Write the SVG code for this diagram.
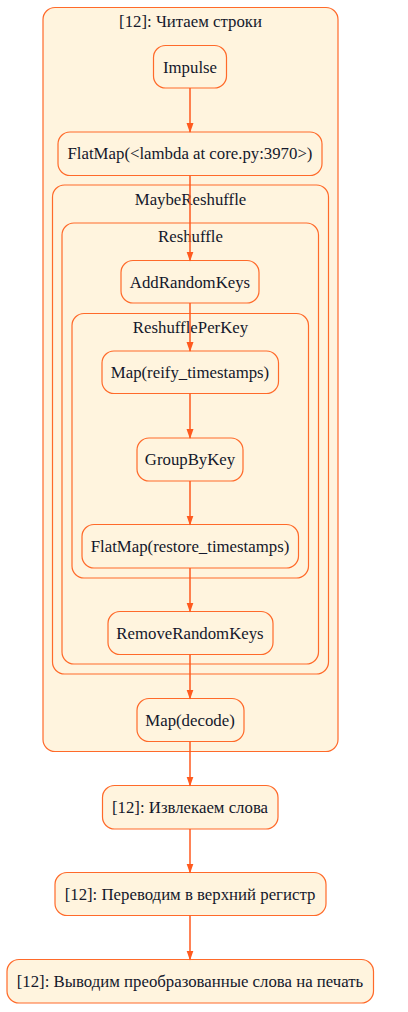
<svg xmlns="http://www.w3.org/2000/svg" width="408" height="1012" viewBox="0 0 408 1012">
<style>
.cl{fill:#fff4de;stroke:#ff6a2a;stroke-width:1.2}
.nd{fill:#fff4de;stroke:#ff6a2a;stroke-width:1.2}
text{font-family:'Liberation Serif','Times New Roman',serif;font-size:16.8px;fill:#14182b;text-anchor:middle}
.e{stroke:#ff5a1f;stroke-width:1.5;fill:none}
</style>
<defs>
<marker id="ah" markerWidth="10" markerHeight="10" refX="9" refY="3.5" orient="auto" markerUnits="userSpaceOnUse" viewBox="0 0 10 7">
<path d="M0,0 L10,3.5 L0,7 Z" fill="#ff5a1f"/>
</marker>
</defs>
<rect width="408" height="1012" fill="#ffffff"/>
<g id="cluster-read">
<rect class="cl" x="43" y="7.5" width="295" height="744" rx="12"/>
<text x="190.5" y="26.5">[12]: Читаем строки</text>
</g>
<g id="cluster-maybereshuffle">
<rect class="cl" x="52.5" y="185" width="276" height="489" rx="12"/>
<text x="190.5" y="204.5">MaybeReshuffle</text>
</g>
<g id="cluster-reshuffle">
<rect class="cl" x="62" y="223" width="256.5" height="441" rx="12"/>
<text x="190.5" y="241.5">Reshuffle</text>
</g>
<g id="cluster-reshuffleperkey">
<rect class="cl" x="72" y="313.5" width="236.5" height="264.5" rx="12"/>
<text x="190.5" y="332.5">ReshufflePerKey</text>
</g>
<g id="n-impulse">
<rect class="nd" x="153.5" y="45.5" width="73" height="42.5" rx="12"/>
<text x="190" y="72.5">Impulse</text>
</g>
<g id="n-flatmap-lambda">
<rect class="nd" x="58" y="132" width="264" height="43.5" rx="12"/>
<text x="190" y="159">FlatMap(&lt;lambda at core.py:3970&gt;)</text>
</g>
<g id="n-addrandomkeys">
<rect class="nd" x="121" y="260.5" width="138" height="42.5" rx="12"/>
<text x="190" y="287.5">AddRandomKeys</text>
</g>
<g id="n-map-reify">
<rect class="nd" x="102" y="351" width="176.5" height="42.5" rx="12"/>
<text x="190" y="378">Map(reify_timestamps)</text>
</g>
<g id="n-groupbykey">
<rect class="nd" x="137" y="438" width="106" height="43" rx="12"/>
<text x="190" y="465">GroupByKey</text>
</g>
<g id="n-flatmap-restore">
<rect class="nd" x="82" y="524.5" width="216.5" height="43.5" rx="12"/>
<text x="190" y="551.5">FlatMap(restore_timestamps)</text>
</g>
<g id="n-removerandomkeys">
<rect class="nd" x="108" y="611.5" width="165" height="43" rx="12"/>
<text x="190" y="638.5">RemoveRandomKeys</text>
</g>
<g id="n-map-decode">
<rect class="nd" x="137" y="698.5" width="107" height="43" rx="12"/>
<text x="190" y="725.5">Map(decode)</text>
</g>
<g id="n-extract">
<rect class="nd" x="102.5" y="785.5" width="175.5" height="43.5" rx="12"/>
<text x="190" y="812.5">[12]: Извлекаем слова</text>
</g>
<g id="n-upper">
<rect class="nd" x="55" y="872.5" width="271" height="43" rx="12"/>
<text x="190" y="899.5">[12]: Переводим в верхний регистр</text>
</g>
<g id="n-print">
<rect class="nd" x="7" y="959.5" width="366.5" height="43.5" rx="12"/>
<text x="190" y="986.5">[12]: Выводим преобразованные слова на печать</text>
</g>
<g id="connectors">
<line class="e" x1="190" y1="88" x2="190" y2="132" marker-end="url(#ah)"/>
<line class="e" x1="190" y1="175.5" x2="190" y2="260.5" marker-end="url(#ah)"/>
<line class="e" x1="190" y1="303" x2="190" y2="351" marker-end="url(#ah)"/>
<line class="e" x1="190" y1="393.5" x2="190" y2="438" marker-end="url(#ah)"/>
<line class="e" x1="190" y1="481" x2="190" y2="524.5" marker-end="url(#ah)"/>
<line class="e" x1="190" y1="568" x2="190" y2="611.5" marker-end="url(#ah)"/>
<line class="e" x1="190" y1="654.5" x2="190" y2="698.5" marker-end="url(#ah)"/>
<line class="e" x1="190" y1="741.5" x2="190" y2="785.5" marker-end="url(#ah)"/>
<line class="e" x1="190" y1="829" x2="190" y2="872.5" marker-end="url(#ah)"/>
<line class="e" x1="190" y1="915.5" x2="190" y2="959.5" marker-end="url(#ah)"/>
</g>
</svg>
